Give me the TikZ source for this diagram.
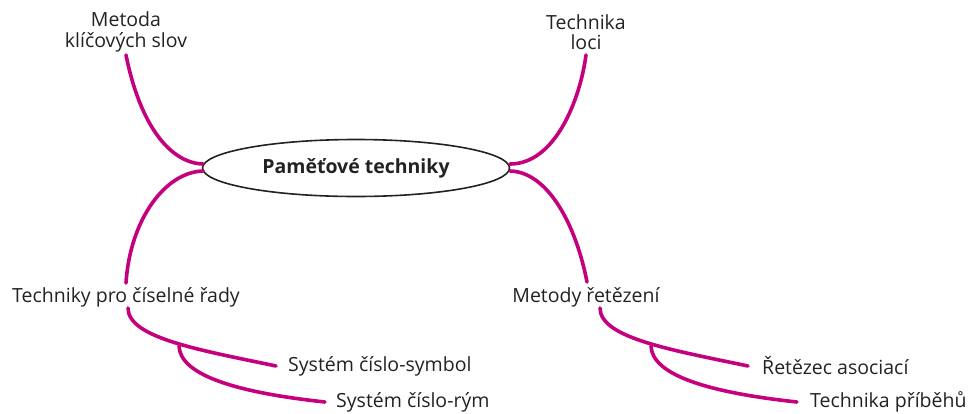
\documentclass[tikz,border=0pt]{standalone}
\usepackage{fontspec}
\setmainfont{Open Sans}
\usetikzlibrary{shapes.geometric}
\definecolor{branch}{RGB}{196,0,126}
\definecolor{ink}{RGB}{34,34,34}
\begin{document}
\begin{tikzpicture}[x=1pt,y=-1pt,
  lbl/.style={text=ink,font=\fontsize{19.5}{20.5}\selectfont,inner sep=0pt,align=center},
  twig/.style={draw=branch,line width=3.6pt,line cap=round}]
\useasboundingbox (0,0) rectangle (969,413);

% central topic
\node[ellipse,draw=ink,line width=1.6pt,minimum width=307pt,minimum height=57pt,
      font=\fontsize{19.5}{20}\selectfont\bfseries,text=ink] (root) at (356,168) {Paměťové techniky};

% main branches
\node[lbl] (kw) at (126,32) {Metoda\\klíčových slov};
\node[lbl] (loci) at (586,32) {Technika\\loci};
\node[lbl] (num) at (126,297) {Techniky pro číselné řady};
\node[lbl] (chain) at (586,297) {Metody řetězení};

% leaves
\node[lbl,anchor=west] (sym) at (288,366) {Systém číslo-symbol};
\node[lbl,anchor=west] (rym) at (336,402) {Systém číslo-rým};
\node[lbl,anchor=west] (asoc) at (762,366) {Řetězec asociací};
\node[lbl,anchor=west] (story) at (810,402) {Technika příběhů};

% attachment points
\coordinate (rl1) at (203,164);
\coordinate (rl2) at (203,171);
\coordinate (rr1) at (510,164);
\coordinate (rr2) at (510,171);
\coordinate (kwend) at (126,55);
\coordinate (lociend) at (586,55);
\coordinate (numend) at (126,283);
\coordinate (chainend) at (587,282);
\coordinate (numstart) at (128,308);
\coordinate (chainstart) at (600,308);
\coordinate (symend) at (276,366);
\coordinate (rymend) at (325,402);
\coordinate (asocend) at (748,366);
\coordinate (storyend) at (797,402);
\coordinate (numfork) at (179,346);
\coordinate (chainfork) at (651,346);

% connectors from the centre
\draw[twig] (rl1) .. controls (170,163) and (140,125) .. (kwend);
\draw[twig] (rl2) .. controls (165,172) and (130,220) .. (numend);
\draw[twig] (rr1) .. controls (555,164) and (580,100) .. (lociend);
\draw[twig] (rr2) .. controls (548,172) and (576,225) .. (chainend);

% sub-branches
\draw[twig] (numstart) .. controls (128,338) and (200,350) .. (symend);
\draw[twig] (numfork) .. controls (180,374) and (232,392) .. (rymend);
\draw[twig] (chainstart) .. controls (600,338) and (672,350) .. (asocend);
\draw[twig] (chainfork) .. controls (652,374) and (704,392) .. (storyend);
\end{tikzpicture}
\end{document}
